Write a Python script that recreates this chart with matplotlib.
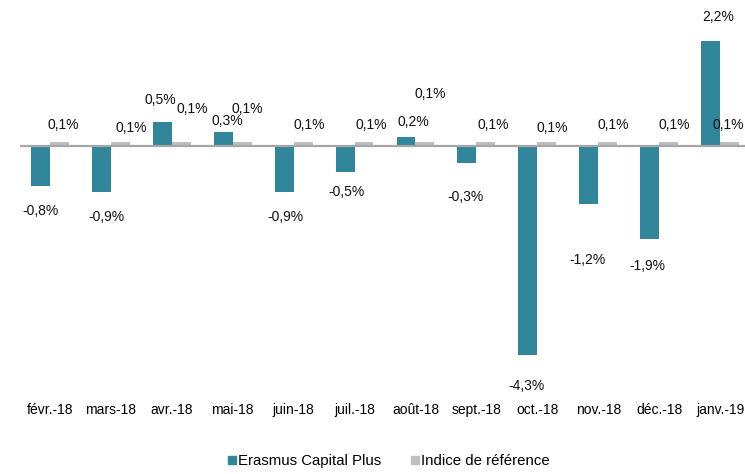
import matplotlib
matplotlib.use("Agg")
import matplotlib.pyplot as plt
from matplotlib.lines import Line2D
import numpy as np

plt.rcParams['font.family'] = ['Liberation Sans', 'DejaVu Sans']

categories = ["févr.-18", "mars-18", "avr.-18", "mai-18", "juin-18", "juil.-18",
              "août-18", "sept.-18", "oct.-18", "nov.-18", "déc.-18", "janv.-19"]
erasmus = [-0.83, -0.95, 0.50, 0.29, -0.94, -0.54, 0.19, -0.35, -4.34, -1.20, -1.92, 2.18]
indice = [0.10, 0.10, 0.10, 0.10, 0.10, 0.10, 0.10, 0.10, 0.10, 0.10, 0.10, 0.10]

# label offsets in pixels (dx, dy) relative to bar end
e_off = [(0, -25), (5, -25), (-2, 22), (4, 11), (1, -25), (1, -20), (7, 15),
         (-1, -34), (-1, -31), (-1, -56), (-2, -27), (8, 24)]
g_off = [(4, 17), (11, 14), (11, 33), (5, 33), (6, 17), (7, 17), (5, 48),
         (7, 17), (6, 14), (6, 17), (6, 17), (-1, 17)]

teal = "#31869B"
gray = "#BFBFBF"

W, H = 745, 474
fig = plt.figure(figsize=(W / 100, H / 100), dpi=100)
left_px, right_px = 19.5, 750.5
top_px, bot_px = 0, 400
ax = fig.add_axes([left_px / W, 1 - bot_px / H, (right_px - left_px) / W, (bot_px - top_px) / H])

x = np.arange(len(categories))
bw = 0.31
ax.bar(x - bw / 2, erasmus, bw, color=teal, zorder=2)
ax.bar(x + bw / 2, indice, bw, color=gray, zorder=2)
ax.axhline(0, color="#A6A6A6", lw=1.6, zorder=3)

def fmt(v):
    return f"{v:.1f}%".replace(".", ",")

for i, v in enumerate(erasmus):
    ax.annotate(fmt(v), (x[i] - bw / 2, v), xytext=e_off[i], textcoords="offset pixels",
                ha="center", va="center", fontsize=10, color="#111111")
for i, v in enumerate(indice):
    ax.annotate(fmt(v), (x[i] + bw / 2, v), xytext=g_off[i], textcoords="offset pixels",
                ha="center", va="center", fontsize=10, color="#111111", annotation_clip=False)

ax.set_xlim(-0.5, len(categories) - 0.5)
ax.set_ylim(-5.27, 3.04)
ax.set_xticks(x)
ax.set_xticklabels(categories, fontsize=10)
ax.tick_params(axis="x", length=0, pad=2)
ax.set_yticks([])
for s in ax.spines.values():
    s.set_visible(False)

handles = [Line2D([], [], marker="s", ls="none", color=teal, markersize=5.5),
           Line2D([], [], marker="s", ls="none", color=gray, markersize=5.5)]
fig.legend(handles, ["Erasmus Capital Plus", "Indice de référence"], loc="center",
           bbox_to_anchor=(389 / W, 1 - 461 / H), ncol=2, frameon=False, fontsize=10.8,
           handlelength=0.5, handletextpad=0.15, columnspacing=2.0)

fig.savefig("out.png", dpi=100)
